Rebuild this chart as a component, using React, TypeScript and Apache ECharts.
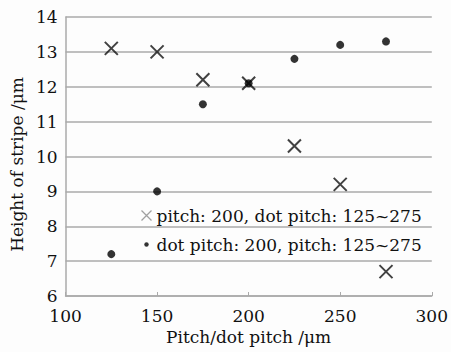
import React, { useEffect, useRef } from "react";
import * as echarts from "echarts";

const xValues = [125, 150, 175, 200, 225, 250, 275];
const crossValues = [13.1, 13.0, 12.2, 12.1, 10.3, 9.2, 6.7];
const dotValues = [7.2, 9.0, 11.5, 12.1, 12.8, 13.2, 13.3];
const crossName = "pitch: 200, dot pitch: 125~275";
const dotName = "dot pitch: 200, pitch: 125~275";

const FONT = "DejaVu Serif";
const CROSS = "path://M0,0L10,10M10,0L0,10";
const SMALL_DOT =
  "path://M2.8,5a2.2,2.2 0 1,0 4.4,0a2.2,2.2 0 1,0 -4.4,0zM0,0L0,0M10,10L10,10";

export default function App() {
  const ref = useRef<HTMLDivElement>(null);
  useEffect(() => {
    if (!ref.current) return;
    const chart = echarts.init(ref.current, null, { renderer: "svg" });
    chart.setOption({
      animation: false,
      backgroundColor: "#fdfdfd",
      textStyle: { fontFamily: FONT },
      grid: { left: 60, right: 18, top: 17, bottom: 56 },
      legend: {
        orient: "vertical",
        left: 134,
        top: 202,
        itemGap: 12,
        itemWidth: 10,
        itemHeight: 10,
        textStyle: { fontFamily: FONT, fontSize: 17, color: "#111" },
        data: [
          {
            name: crossName,
            icon: CROSS,
            itemStyle: { color: "none", borderColor: "#888", borderWidth: 1.3 },
          },
          {
            name: dotName,
            icon: SMALL_DOT,
            itemStyle: { color: "#000" },
          },
        ],
      },
      xAxis: {
        type: "value",
        min: 100,
        max: 300,
        interval: 50,
        name: "Pitch/dot pitch /μm",
        nameLocation: "middle",
        nameGap: 32,
        nameTextStyle: { fontFamily: FONT, fontSize: 17, color: "#111" },
        axisLine: { show: true, lineStyle: { color: "#aaa", width: 1.5 } },
        axisTick: { show: true, inside: true, length: 4, lineStyle: { color: "#aaa" } },
        axisLabel: { fontFamily: FONT, fontSize: 17, color: "#111", margin: 11 },
        splitLine: { show: false },
      },
      yAxis: {
        type: "value",
        min: 6,
        max: 14,
        interval: 1,
        name: "Height of stripe /μm",
        nameLocation: "middle",
        nameGap: 38,
        nameTextStyle: { fontFamily: FONT, fontSize: 17, color: "#111", padding: [0, 16, 0, 0] },
        axisLine: { show: true, lineStyle: { color: "#aaa", width: 1.5 } },
        axisTick: { show: false },
        axisLabel: { fontFamily: FONT, fontSize: 17, color: "#111", margin: 8 },
        splitLine: { show: true, lineStyle: { color: "#aaa", width: 1.5 } },
      },
      series: [
        {
          name: crossName,
          type: "scatter",
          symbol: CROSS,
          symbolSize: 13,
          itemStyle: { color: "none", borderColor: "#111", borderWidth: 2 },
          data: xValues.map((x, i) => [x, crossValues[i]]),
          z: 3,
        },
        {
          name: dotName,
          type: "scatter",
          symbol: "circle",
          symbolSize: 8,
          itemStyle: { color: "#000" },
          data: xValues.map((x, i) => [x, dotValues[i]]),
          z: 4,
        },
      ],
    });
    return () => chart.dispose();
  }, []);
  return <div ref={ref} style={{ width: 451, height: 352, position: "absolute", left: 0, top: 0 }} />;
}
